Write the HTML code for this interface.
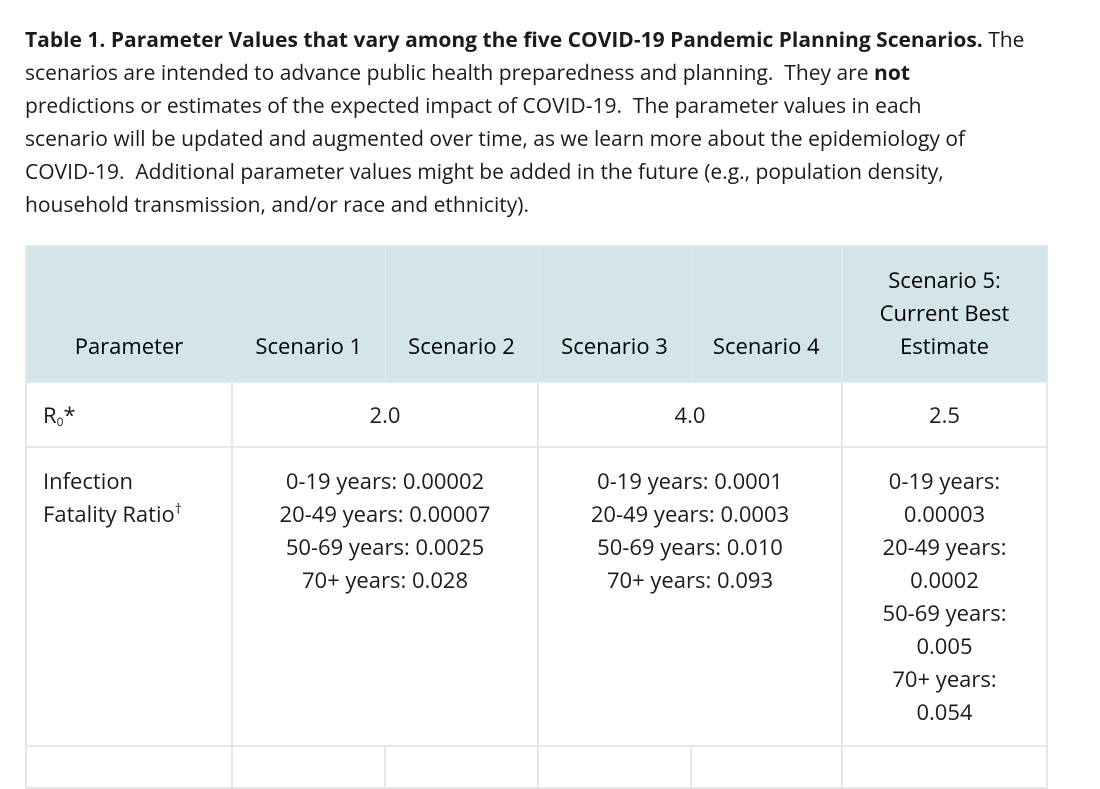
<!DOCTYPE html>
<html><head><meta charset="utf-8"><style>
body{margin:0;width:1100px;height:760px;background:#fff;overflow:hidden;font-family:"Open Sans","Liberation Sans",sans-serif;color:#1b1b1b}
.cap{position:absolute;left:25px;top:24px;font-size:21px;line-height:33px;white-space:nowrap}
table{position:absolute;left:25px;top:245px;border-collapse:collapse;font-size:22px;table-layout:fixed}
td,th{border:2px solid #e6e6e8;padding:0;text-align:center;vertical-align:top;line-height:33px}
th{background:#d4e5ea;font-weight:normal;color:#000;vertical-align:bottom;padding-bottom:18px;height:116px;border-color:#dde8ec}
th.in{border-left:1px solid #e0ecef;border-right:1px solid #e0ecef}
td.l{text-align:left;padding-left:16px}
sup,sub{line-height:0}
</style></head><body>
<div class="cap"><b>Table 1. Parameter Values that vary among the five COVID-19 Pandemic Planning Scenarios.</b> The<br>scenarios are intended to advance public health preparedness and planning.&nbsp; They are <b>not</b><br>predictions or estimates of the expected impact of COVID-19.&nbsp; The parameter values in each<br>scenario will be updated and augmented over time, as we learn more about the epidemiology of<br>COVID-19.&nbsp; Additional parameter values might be added in the future (e.g., population density,<br>household transmission, and/or race and ethnicity).</div>
<table>
<colgroup><col style="width:206px"><col style="width:153px"><col style="width:153px"><col style="width:153px"><col style="width:151px"><col style="width:205px"></colgroup>
<tr>
<th>Parameter</th>
<th class="in">Scenario 1</th>
<th class="in">Scenario 2</th>
<th class="in">Scenario 3</th>
<th class="in">Scenario 4</th>
<th>Scenario 5:<br>Current Best<br>Estimate</th></tr>
<tr>
<td class="l" style="height:47px;padding-top:16px">R<sub style="font-size:12px;vertical-align:-3px">0</sub>*</td>
<td colspan="2" style="padding-top:16px">2.0</td>
<td colspan="2" style="padding-top:16px">4.0</td>
<td style="padding-top:16px">2.5</td></tr>
<tr>
<td class="l" style="height:280px;padding-top:17px">Infection<br>Fatality Ratio<sup style="font-size:14px">†</sup></td>
<td colspan="2" style="padding-top:17px">0-19 years: 0.00002<br>20-49 years: 0.00007<br>50-69 years: 0.0025<br>70+ years: 0.028</td>
<td colspan="2" style="padding-top:17px">0-19 years: 0.0001<br>20-49 years: 0.0003<br>50-69 years: 0.010<br>70+ years: 0.093</td>
<td style="padding-top:17px">0-19 years:<br>0.00003<br>20-49 years:<br>0.0002<br>50-69 years:<br>0.005<br>70+ years:<br>0.054</td></tr>
<tr><td style="height:40px"></td><td></td><td></td><td></td><td></td><td></td></tr>
</table>
</body></html>
